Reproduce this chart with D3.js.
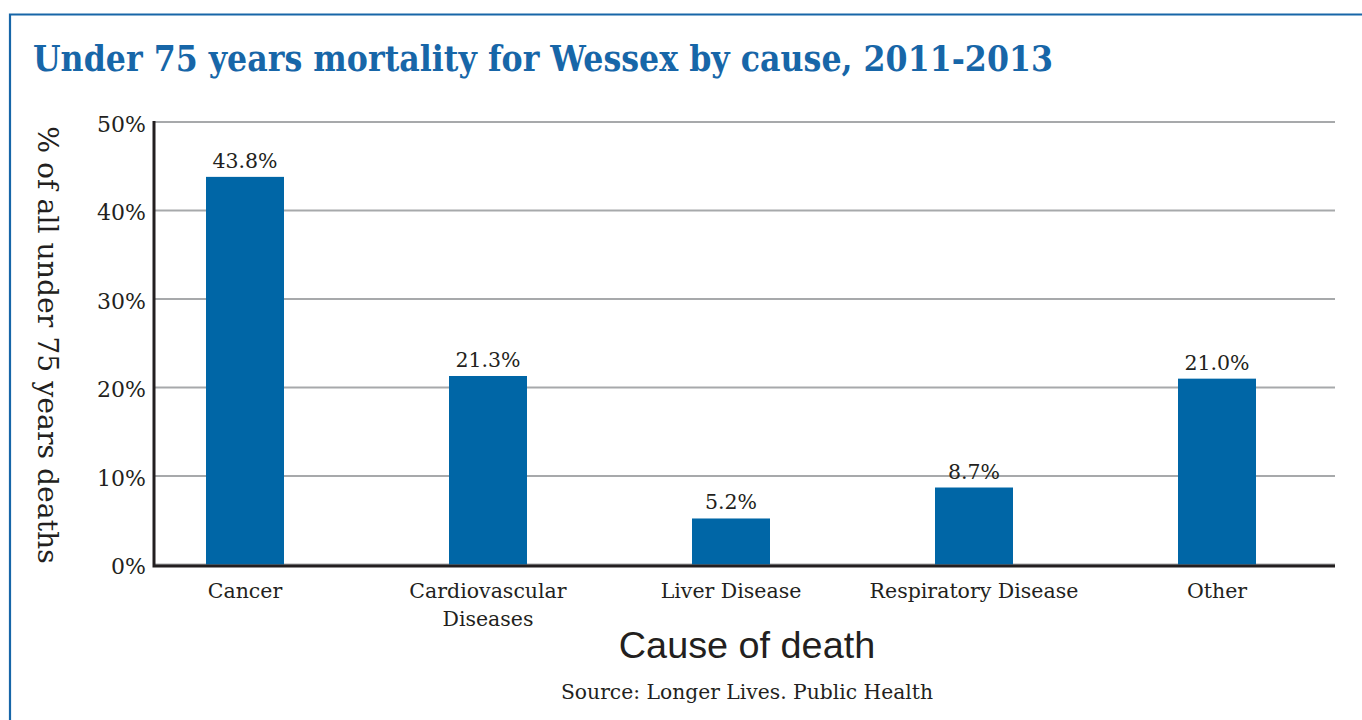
<!DOCTYPE html>
<html>
<head>
<meta charset="utf-8">
<script src="https://cdn.jsdelivr.net/npm/d3@7"></script>
<style>
  html, body { margin: 0; padding: 0; background: #fff; }
  svg { display: block; }
</style>
</head>
<body>
<svg id="chart" width="1362" height="720"></svg>
<script>
// Under-75 mortality shares by cause, Wessex 2011-2013
const causes = [["Cancer"], ["Cardiovascular", "Diseases"], ["Liver Disease"], ["Respiratory Disease"], ["Other"]];
const shares = [43.8, 21.3, 5.2, 8.7, 21.0];
const yTicks = [0, 10, 20, 30, 40, 50];

const W = 1362, H = 720;
const blue = "#0066a6";
const frameBlue = "#1766a8";
const ink = "#231f20";
const serif = "'DejaVu Serif', 'Liberation Serif', serif";
const sans = "'Liberation Sans', Arial, sans-serif";

const svg = d3.select("#chart");

// outer frame (open on the right and bottom)
svg.append("path")
  .attr("d", `M10,${H + 5} L10,14.5 L${W + 5},14.5`)
  .attr("fill", "none")
  .attr("stroke", frameBlue)
  .attr("stroke-width", 2.2);

// title
svg.append("text")
  .attr("x", 33).attr("y", 71)
  .attr("fill", frameBlue)
  .attr("font-family", serif)
  .attr("font-weight", "bold")
  .attr("font-size", 35)
  .attr("textLength", 1020)
  .attr("lengthAdjust", "spacingAndGlyphs")
  .text("Under 75 years mortality for Wessex by cause, 2011-2013");

const plotLeft = 154, plotRight = 1335;
const y = d3.scaleLinear().domain([0, 50]).range([564.5, 122]);

const x = d3.scaleBand()
  .domain(causes.map((d, i) => i))
  .range([123.5, 1338.5])
  .paddingInner(1 - 78 / 243)
  .paddingOuter((1 - 78 / 243) / 2);

// gridlines
svg.append("g")
  .selectAll("line")
  .data(yTicks)
  .join("line")
  .attr("x1", plotLeft).attr("x2", plotRight)
  .attr("y1", d => y(d)).attr("y2", d => y(d))
  .attr("stroke", "#a7a9ab")
  .attr("stroke-width", 1.8);

// y tick labels
const yAxis = d3.axisLeft(y).tickValues(yTicks).tickFormat(d => d + "%").tickSize(0).tickPadding(0);
const yg = svg.append("g").attr("transform", `translate(146,0)`).call(yAxis);
yg.select(".domain").remove();
yg.selectAll("text")
  .attr("font-family", serif)
  .attr("font-size", 22)
  .attr("fill", ink)
  .attr("dy", "0.42em");

// bars
svg.append("g")
  .selectAll("rect")
  .data(shares)
  .join("rect")
  .attr("x", (d, i) => x(i))
  .attr("width", x.bandwidth())
  .attr("y", d => y(d))
  .attr("height", d => y(0) - y(d))
  .attr("fill", blue);

// value labels
svg.append("g")
  .selectAll("text")
  .data(shares)
  .join("text")
  .attr("x", (d, i) => x(i) + x.bandwidth() / 2)
  .attr("y", d => y(d) - 9)
  .attr("text-anchor", "middle")
  .attr("font-family", serif)
  .attr("font-size", 20.5)
  .attr("fill", ink)
  .text(d => d.toFixed(1) + "%");

// axis lines
svg.append("path")
  .attr("d", `M${plotLeft},121 L${plotLeft},566 L${plotRight},566`)
  .attr("fill", "none")
  .attr("stroke", ink)
  .attr("stroke-width", 3);

// category labels
const xl = svg.append("g")
  .selectAll("text")
  .data(causes)
  .join("text")
  .attr("x", (d, i) => x(i) + x.bandwidth() / 2)
  .attr("y", 598)
  .attr("text-anchor", "middle")
  .attr("font-family", serif)
  .attr("font-size", 20.5)
  .attr("fill", ink);
xl.selectAll("tspan")
  .data(d => d)
  .join("tspan")
  .attr("x", function () { return this.parentNode.getAttribute("x"); })
  .attr("dy", (d, i) => i === 0 ? 0 : 28)
  .text(d => d);

// y axis title, reading downward
svg.append("text")
  .attr("transform", "translate(38,345) rotate(90)")
  .attr("text-anchor", "middle")
  .attr("font-family", serif)
  .attr("font-size", 28.3)
  .attr("fill", ink)
  .text("% of all under 75 years deaths");

// x axis title
svg.append("text")
  .attr("x", 747).attr("y", 658)
  .attr("text-anchor", "middle")
  .attr("font-family", sans)
  .attr("font-size", 37.8)
  .attr("fill", ink)
  .text("Cause of death");

// source
svg.append("text")
  .attr("x", 747).attr("y", 699)
  .attr("text-anchor", "middle")
  .attr("font-family", serif)
  .attr("font-size", 20.3)
  .attr("fill", ink)
  .text("Source: Longer Lives. Public Health");
</script>
</body>
</html>
